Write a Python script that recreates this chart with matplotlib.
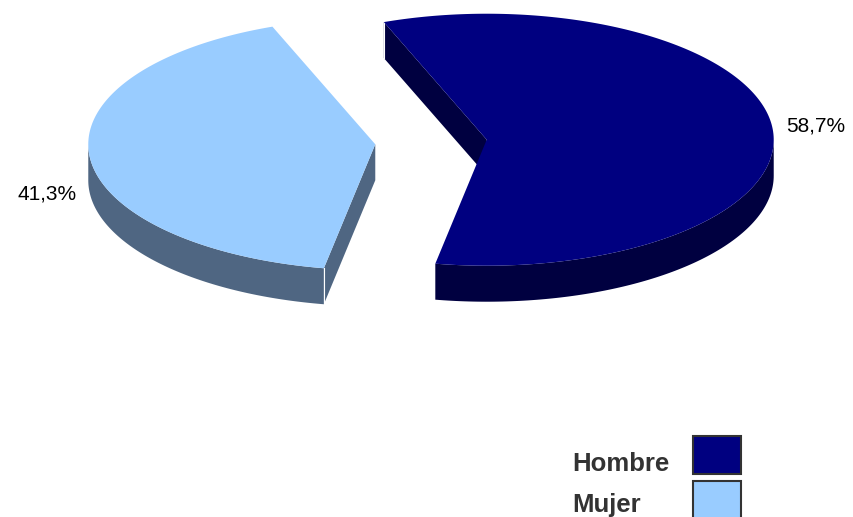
import matplotlib.pyplot as plt
import numpy as np
from matplotlib.patches import Polygon, Rectangle

# datos
categorias = ['Hombre', 'Mujer']
valores = [58.7, 41.3]
etiquetas = ['58,7%', '41,3%']
color_sup = ['#000080', '#99CCFF']
color_lado = ['#000040', '#4F6682']

# geometria del pastel (en pixeles)
cx, cy = 431, 142
rx, ry = 287, 126
prof = 36
separa = 0.195
inicio = 111.0

plt.rcParams['font.family'] = ['Liberation Sans', 'DejaVu Sans']

fig = plt.figure(figsize=(8.54, 5.17), dpi=100)
ax = fig.add_axes([0, 0, 1, 1])
ax.set_xlim(0, 854)
ax.set_ylim(517, 0)
ax.axis('off')


def borde(x0, y0, t, dy=0):
    t = np.radians(t)
    return x0 + rx * np.cos(t), y0 - ry * np.sin(t) + dy


total = sum(valores)
t_actual = inicio
for i in range(len(valores)):
    ang = valores[i] / total * 360
    t2 = t_actual
    t1 = t_actual - ang
    t_actual = t1
    medio = np.radians((t1 + t2) / 2)
    x0 = cx + separa * rx * np.cos(medio)
    y0 = cy - separa * ry * np.sin(medio)

    # cara lateral curva (parte delantera)
    for k in (-360, 0, 360):
        lo = max(t1, 180 + k)
        hi = min(t2, 360 + k)
        if hi > lo:
            tt = np.linspace(lo, hi, 120)
            xs, ys = borde(x0, y0, tt)
            xb, yb = borde(x0, y0, tt[::-1], prof)
            pts = np.column_stack([np.r_[xs, xb], np.r_[ys, yb]])
            ax.add_patch(Polygon(pts, closed=True, facecolor=color_lado[i],
                                 edgecolor='none', zorder=1))

    # caras de corte visibles
    for t, vis in ((t2, np.cos(np.radians(t2)) < 0),
                   (t1, np.cos(np.radians(t1)) > 0)):
        if vis:
            xr, yr = borde(x0, y0, t)
            pts = [(x0, y0), (xr, yr), (xr, yr + prof), (x0, y0 + prof)]
            ax.add_patch(Polygon(pts, closed=True, facecolor=color_lado[i],
                                 edgecolor='none', zorder=1))
            ax.plot([xr, xr], [yr, yr + prof], color='white', lw=0.8, zorder=2)

    # cara superior
    tt = np.linspace(t1, t2, 200)
    xs, ys = borde(x0, y0, tt)
    pts = np.column_stack([np.r_[x0, xs], np.r_[y0, ys]])
    ax.add_patch(Polygon(pts, closed=True, facecolor=color_sup[i],
                         edgecolor='none', zorder=3))

    # etiqueta de porcentaje
    lx = x0 + 1.15 * rx * np.cos(medio)
    ly = y0 - 1.15 * ry * np.sin(medio)
    if np.sin(medio) < 0:
        ly += prof
    ax.text(lx, ly, etiquetas[i], ha='center', va='center', fontsize=15,
            color='black', zorder=4)

# leyenda
for i in range(len(categorias)):
    ax.add_patch(Rectangle((693, 436 + i * 45), 48, 38, facecolor=color_sup[i],
                           edgecolor='#333333', lw=1.5, zorder=4))
    ax.text(572, 471 + i * 41, categorias[i], ha='left', va='baseline',
            fontsize=18.5, fontweight='bold', color='#333333', zorder=4)

fig.savefig('out.png', dpi=100)
